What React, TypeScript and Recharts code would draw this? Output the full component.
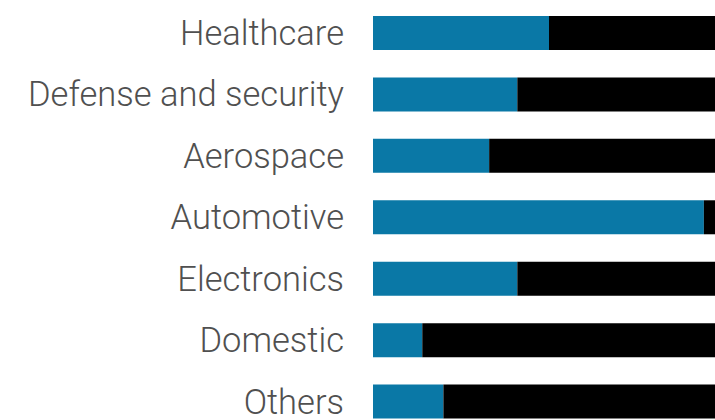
import { BarChart, Bar, XAxis, YAxis } from "recharts";

const categories = [
  "Healthcare",
  "Defense and security",
  "Aerospace",
  "Automotive",
  "Electronics",
  "Domestic",
  "Others",
];
const blueShare = [50, 41, 33, 94, 41, 14, 20];
const blackShare = blueShare.map((v) => 100 - v);

const data = categories.map((name, i) => ({
  name,
  blue: blueShare[i],
  black: blackShare[i],
}));

export default function App() {
  return (
    <div
      style={{
        position: "fixed",
        left: 0,
        top: 0,
        width: 715,
        height: 420,
        overflow: "hidden",
        background: "#fff",
      }}
    >
      <BarChart
        width={740}
        height={432}
        data={data}
        layout="vertical"
        margin={{ top: 2, right: 15, bottom: 0, left: 0 }}
        barSize={34}
      >
        <XAxis type="number" domain={[0, 100]} hide />
        <YAxis
          type="category"
          dataKey="name"
          width={373}
          axisLine={false}
          tickLine={false}
          tickSize={0}
          tickMargin={29}
          interval={0}
          tick={{
            fill: "#505050",
            fontSize: 34.5,
            fontFamily: "Roboto",
            fontWeight: 300,
          }}
        />
        <Bar dataKey="blue" stackId="a" fill="#0a78a6" isAnimationActive={false} />
        <Bar dataKey="black" stackId="a" fill="#000" isAnimationActive={false} />
      </BarChart>
    </div>
  );
}
